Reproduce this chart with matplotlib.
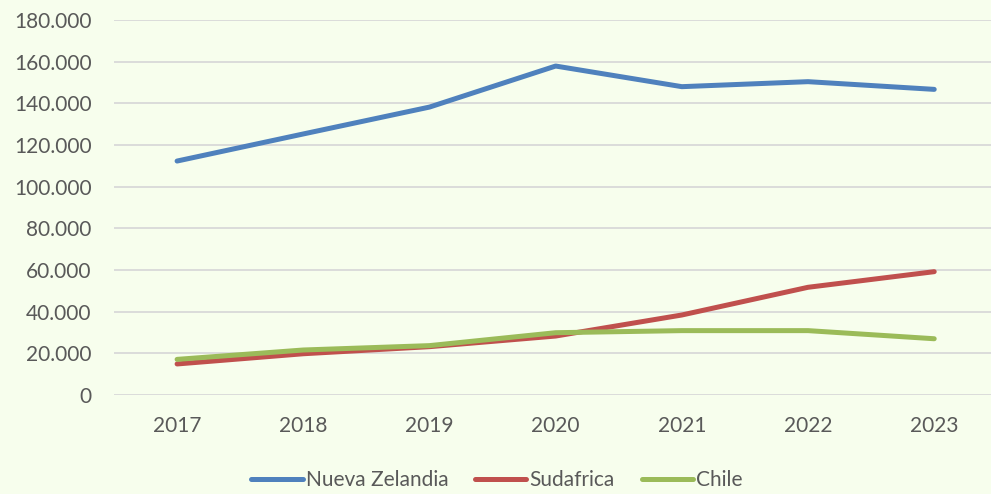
import matplotlib
matplotlib.use("Agg")
import matplotlib.pyplot as plt
from matplotlib.ticker import FuncFormatter

years = ["2017", "2018", "2019", "2020", "2021", "2022", "2023"]
nueva_zelandia = [112300, 125300, 138200, 157900, 148000, 150400, 146700]
sudafrica = [14900, 19800, 23200, 28300, 38400, 51700, 59200]
chile = [17100, 21600, 23700, 29900, 30900, 30900, 27000]

bg = "#F7FEED"
txt = "#595959"
plt.rcParams['font.family'] = ['Lato', 'DejaVu Sans']

fig = plt.figure(figsize=(9.91, 4.94), dpi=100, facecolor=bg)
ax = fig.add_axes([114/991, (494-395)/494, (991-114)/991, (395-20)/494], facecolor=bg)

x = list(range(len(years)))
series = [("Nueva Zelandia", nueva_zelandia, "#4F81BD"),
          ("Sudafrica", sudafrica, "#C0504D"),
          ("Chile", chile, "#9BBB59")]
for name, vals, col in series:
    ax.plot(x, vals, color=col, lw=3.6, solid_capstyle='round', solid_joinstyle='round', label=name)

ax.set_ylim(0, 180000)
ax.set_yticks(range(0, 180001, 20000))
ax.yaxis.set_major_formatter(FuncFormatter(lambda v, p: f"{int(v):,}".replace(",", ".")))
ax.set_xlim(-0.5, 6.45)
ax.set_xticks(x)
ax.set_xticklabels(years)
ax.grid(axis='y', color="#D9D9D9", lw=1.3)
ax.set_axisbelow(True)
for s in ax.spines.values():
    s.set_visible(False)
ax.tick_params(axis='both', length=0, colors=txt, labelsize=15)
ax.tick_params(axis='y', pad=16)
ax.tick_params(axis='x', pad=15)

leg = fig.legend(loc='center', bbox_to_anchor=(497/991, 1 - 480/494), ncol=3, frameon=False,
                 fontsize=15, handlelength=2.45, handletextpad=0.15, columnspacing=1.3)
for t in leg.get_texts():
    t.set_color(txt)

fig.savefig("out.png", dpi=100, facecolor=bg)
